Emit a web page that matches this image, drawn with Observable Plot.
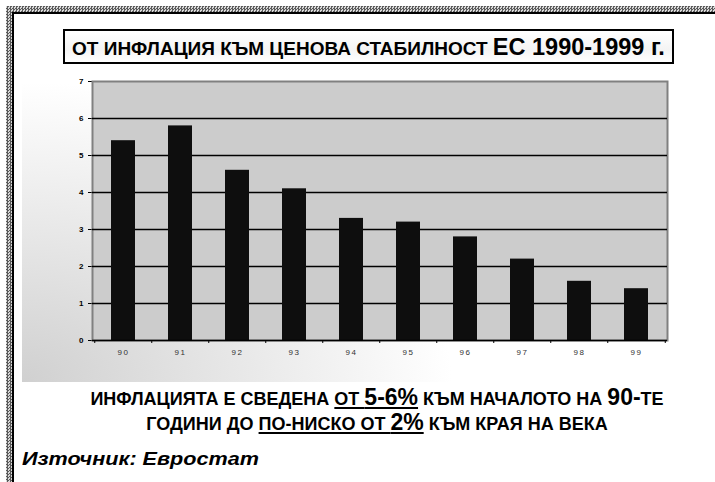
<!DOCTYPE html>
<html>
<head>
<meta charset="utf-8">
<script src="https://cdn.jsdelivr.net/npm/d3@7"></script>
<script src="https://cdn.jsdelivr.net/npm/@observablehq/plot@0.6"></script>
<style>
  html, body { margin: 0; padding: 0; background: #fff; }
  #page { position: relative; width: 715px; height: 482px; overflow: hidden; font-family: "Liberation Sans", Arial, sans-serif; }
  .pat { position: absolute; background: repeating-conic-gradient(#5a5a5a 0 25%, #d8d8d8 0 50%) 0 0 / 3px 3px; }
  #bt { left: 6px; top: 6px; width: 709px; height: 6px; }
  #bl { left: 6px; top: 6px; width: 6px; height: 476px; }
  #lt { position: absolute; left: 12px; top: 12px; width: 703px; height: 2px; background: #000; }
  #ll { position: absolute; left: 12px; top: 12px; width: 2px; height: 470px; background: #000; }
  #grad { position: absolute; left: 22px; top: 70px; width: 680px; height: 312px;
          background: radial-gradient(ellipse 430px 300px at 0% 100%, #d0d0d0 0%, rgba(255,255,255,0) 100%); }
  #title { position: absolute; left: 63px; top: 29px; width: 607px; height: 31px; border: 2px solid #000;
           box-sizing: content-box; background: linear-gradient(#fff, #f4f4f4 60%, #fff);
           font-weight: bold; font-size: 19px; line-height: 32px; text-align: center; white-space: nowrap; color: #000; }
  #title .big { font-size: 23.5px; }
  #chart { position: absolute; left: 0; top: 70px; }
  #sub { position: absolute; left: 0; width: 754px; top: 386px; text-align: center; font-weight: bold;
         font-size: 18px; line-height: 23px; color: #000; white-space: nowrap; }
  #sub .big { font-size: 23px; }
  #sub u { text-decoration-thickness: 2px; text-underline-offset: 2px; }
  #src { position: absolute; left: 22px; top: 449px; font-weight: bold; font-style: italic; font-size: 18px; color: #000;
         transform: scaleX(1.2); transform-origin: 0 0; white-space: nowrap; }
</style>
</head>
<body>
<div id="page">
  <div id="grad"></div>
  <div class="pat" id="bt"></div>
  <div class="pat" id="bl"></div>
  <div id="lt"></div>
  <div id="ll"></div>
  <div id="title">ОТ ИНФЛАЦИЯ КЪМ ЦЕНОВА СТАБИЛНОСТ <span class="big">ЕС 1990-1999 г.</span></div>
  <div id="chart"></div>
  <div id="sub">ИНФЛАЦИЯТА Е СВЕДЕНА <u>ОТ <span class="big">5-6%</span></u> КЪМ НАЧАЛОТО НА <span class="big">90-</span>ТЕ<br>ГОДИНИ ДО <u>ПО-НИСКО ОТ <span class="big">2%</span></u> КЪМ КРАЯ НА ВЕКА</div>
  <div id="src">Източник: Евростат</div>
</div>
<script>
const years = ["90", "91", "92", "93", "94", "95", "96", "97", "98", "99"];
const inflation = [5.4, 5.8, 4.6, 4.1, 3.3, 3.2, 2.8, 2.2, 1.6, 1.4];
const yTicks = [0, 1, 2, 3, 4, 5, 6, 7];
const gridValues = [1, 2, 3, 4, 5, 6];

const data = years.map((y, i) => ({year: y, value: inflation[i]}));

const W = 715, H = 300, ML = 92, MR = 48, MT = 11, MB = 30;
const step = (W - ML - MR) / years.length;

const chart = Plot.plot({
  width: W, height: H,
  marginLeft: ML, marginRight: MR, marginTop: MT, marginBottom: MB,
  style: {background: "transparent", fontFamily: "Liberation Sans, Arial, sans-serif", fontSize: "8px", color: "#000", overflow: "visible"},
  x: {domain: years, paddingInner: 0.58, paddingOuter: 0.29, axis: null, label: null},
  y: {domain: [0, 7], ticks: yTicks, label: null, tickSize: 4, tickPadding: 5, line: true, tickFormat: d => d},
  marks: [
    Plot.frame({fill: "#cccccc", stroke: "#808080", strokeWidth: 2}),
    Plot.ruleY(gridValues, {stroke: "#000", strokeWidth: 1.5}),
    Plot.barY(data, {x: "year", y: "value", fill: "#0e0e0e"}),
    Plot.ruleY([0], {stroke: "#000", strokeWidth: 1.5}),
    Plot.axisX(years, {tickSize: 3, tickFormat: () => "", dx: -step / 2, stroke: "#000", label: null}),
    Plot.axisX([years[years.length - 1]], {tickSize: 3, tickFormat: () => "", dx: step / 2, stroke: "#000", label: null}),
    Plot.axisX(years, {tickSize: 0, tickPadding: 9, fontSize: 8, fill: "#333", label: null})
  ]
});
d3.select(chart).selectAll('g[aria-label="y-axis tick label"] text').style("font-weight", "bold");
d3.select(chart).selectAll('g[aria-label="x-axis tick label"] text').style("letter-spacing", "1.5px");
document.getElementById("chart").appendChild(chart);
</script>
</body>
</html>
